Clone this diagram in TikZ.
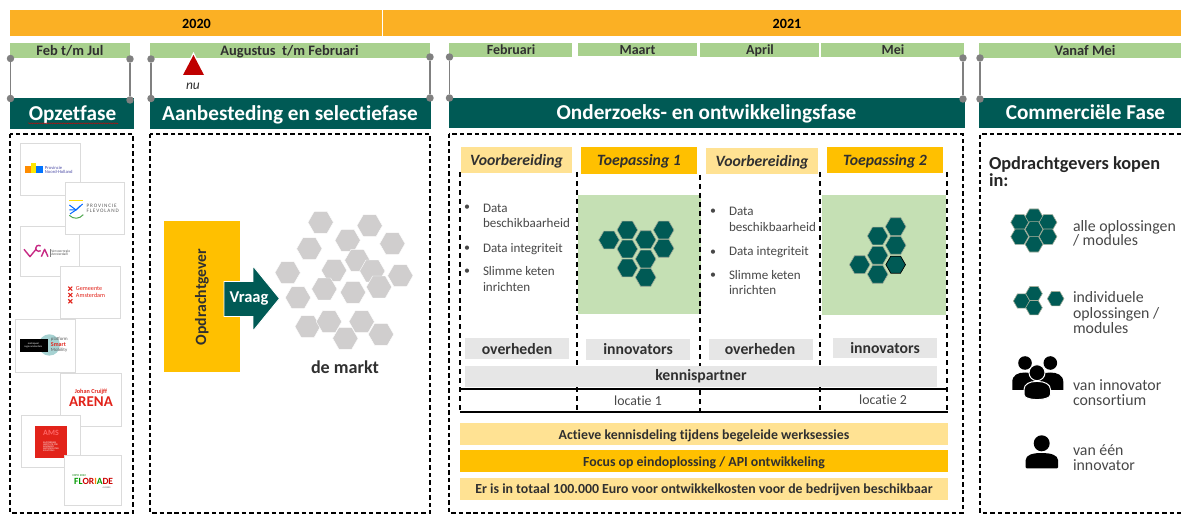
\documentclass[tikz,border=0pt]{standalone}
\usepackage{fontspec}
\setmainfont{Carlito}[Ligatures=NoCommon]
\usetikzlibrary{decorations.pathmorphing}
\definecolor{yearbar}{HTML}{FBB024}
\definecolor{monthgreen}{HTML}{A9D18E}
\definecolor{phase}{HTML}{005A55}
\definecolor{paleyellow}{HTML}{FFE293}
\definecolor{gold}{HTML}{FFC000}
\definecolor{softgreen}{HTML}{C5E0B4}
\definecolor{hexgrey}{HTML}{D0CECE}
\definecolor{bargrey}{HTML}{E6E6E6}
\definecolor{ink}{HTML}{303030}
\definecolor{bodytext}{HTML}{484848}
\definecolor{dotgrey}{HTML}{808080}
\definecolor{logored}{HTML}{E2231A}
\newcommand{\fs}[1]{\fontsize{#1}{#1}\selectfont}
\newcommand{\hexa}[4]{\path[#1,shift={(#2,#3)},scale=#4] (-1,0)--(-.5,-.866)--(.5,-.866)--(1,0)--(.5,.866)--(-.5,.866)--cycle;}
\tikzset{
  x=1bp,y=-1bp,
  box/.style={inner sep=0pt,outer sep=0pt,align=center},
  yearlabel/.style={box,anchor=base,font=\fs{14.2}\bfseries,text=black},
  monthlabel/.style={box,anchor=base,font=\fs{14.5}\bfseries,text=ink},
  monthnarrow/.style={box,anchor=base,font=\fs{14}\bfseries,text=ink},
  phaselabel/.style={box,anchor=base,font=\fs{21.3}\bfseries,text=white},
  steplabel/.style={box,anchor=base,font=\fs{15.8}\bfseries\itshape,text=ink},
  actorlabel/.style={box,anchor=base,font=\fs{15.8}\bfseries,text=ink},
  barlabel/.style={box,anchor=base,font=\fs{13.9}\bfseries,text=ink},
  listlabel/.style={box,font=\fs{13.1},text=bodytext,anchor=base west},
  buylabel/.style={box,font=\fs{15.9},text=bodytext,anchor=base west},
  headlabel/.style={box,font=\fs{18.4}\bfseries,text=black!85,anchor=base west},
  placelabel/.style={box,anchor=base,font=\fs{13.9},text=bodytext},
  bulletlabel/.style={box,font=\fs{12},text=bodytext},
  dashbox/.style={draw=black,line width=1.2pt,dash pattern=on 4.5pt off 3pt},
  dashrule/.style={draw=black,line width=1.1pt,dash pattern=on 5pt off 4pt},
  solidrule/.style={draw=black,line width=1.2pt},
  marketfill/.style={fill=hexgrey,draw=white,line width=.4pt},
  modulefill/.style={fill=phase,draw=softgreen!60!black!70!white,line width=.6pt},
  modulefilldark/.style={fill=phase,draw=black,line width=.7pt},
  dotnode/.style={circle,fill=dotgrey,minimum size=7.5pt,inner sep=0pt},
  handle/.style={draw=dotgrey,line width=1.6pt},
  logocard/.style={fill=white,draw=black!14,line width=1pt},
  logotext/.style={box,anchor=west,align=left},
  amsx/.style={draw=logored,line width=1.1pt},
}
\newcommand{\card}[4]{\fill[black!8] (#1+1,#2+1) rectangle (#3+1.5,#4+1.5); \path[logocard] (#1,#2) rectangle (#3,#4);}
\begin{document}
\begin{tikzpicture}
\useasboundingbox (0,0) rectangle (1181,517);
\fill[white] (0,0) rectangle (1181,517);

% years
\fill[yearbar] (10,10) rectangle (382,36);
\fill[yearbar] (383,10) rectangle (1181,36);
\node[yearlabel] (y20) at (196.5,29) {2020};
\node[yearlabel] (y21) at (787,29) {2021};

% months
\fill[monthgreen] (10,43) rectangle (130,58);
\fill[monthgreen] (150,43) rectangle (430,58);
\fill[monthgreen] (449,43) rectangle (572,57);
\fill[monthgreen] (578,43) rectangle (697,56.5);
\fill[monthgreen] (700,43) rectangle (819,57);
\fill[monthgreen] (821,43) rectangle (964,57);
\fill[monthgreen] (979,43) rectangle (1181,58);
\node[monthlabel] (m1) at (70,55.5) {Feb t/m Jul};
\node[monthlabel] (m2) at (289.5,55.5) {Augustus\ \ t/m Februari};
\node[monthnarrow] (m3) at (511,54.5) {Februari};
\node[monthnarrow] (m4) at (637.5,54.5) {Maart};
\node[monthnarrow] (m5) at (760,54.5) {April};
\node[monthnarrow] (m6) at (893,54.5) {Mei};
\node[monthlabel] (m7) at (1085,55.5) {Vanaf Mei};

% phase bars
\fill[phase] (9.5,98) rectangle (134,129);
\fill[phase] (149.5,98) rectangle (430.5,129);
\fill[phase] (448.5,98) rectangle (965,128.5);
\fill[phase] (979,98) rectangle (1181,128);
\node[phaselabel] (p1) at (72.5,120.5) {Opzetfase};
\node[phaselabel] (p2) at (290,120.5) {Aanbesteding en selectiefase};
\node[phaselabel] (p3) at (706.5,120) {Onderzoeks- en ontwikkelingsfase};
\node[phaselabel] (p4) at (1085.5,120) {Commerciële Fase};
\draw[red!85!black,line width=.4pt,decorate,decoration={snake,amplitude=.5pt,segment length=2.5pt}] (28,123.3) -- (118,123.3);

% handles
\foreach \n/\a/\ya/\yb in {a/10.5/58.5/98.5,b/130/59/100,c/151/59/98.5,d/430/57/98,e/449.5/57/98,f/963/58/99,g/980/58/99}{
  \node[dotnode] (top\n) at (\a,\ya) {};
  \node[dotnode] (bot\n) at (\a,\yb) {};
  \draw[handle] (top\n) -- (bot\n);
}

% now marker
\fill[fill=white] (193.5,52) -- (206,76) -- (181,76) -- cycle;
\fill[fill=red!75!black] (193.5,55) -- (204,75) -- (183,75) -- cycle;
\node[box,font=\fs{13.5}\itshape,text=ink] (nu) at (193,86) {nu};

% dashed frames
\path[dashbox] (10,134) rectangle (133,513);
\path[dashbox] (150,134) rectangle (430,513);
\path[dashbox] (449,134) rectangle (963,513);
\path[dashbox] (1181,134) -- (980,134) -- (980,513) -- (1181,513);

% logos
\begin{scope}[shift={(0,130)},x=.3333bp,y=-.3333bp]
\card{62}{41}{243}{196}
\fill[orange!90!yellow] (75,108) rectangle (92,130);
\fill[yellow!90!orange] (92,100) rectangle (108,130);
\fill[blue!55!cyan] (108,108) rectangle (130,130);
\node[logotext,font=\fs{4.6},text=blue!50!black!70!white] (lg1) at (135,119) {Provincie\\[-.3pt]Noord-Holland};
\card{62}{290}{238}{440}
\draw[magenta!80!black,line width=1.4pt,line join=round] (72,358) -- (90,380) -- (108,358);
\draw[magenta!80!black,line width=1.4pt] (122,362) arc[start angle=50,end angle=310,radius=9];
\draw[magenta!80!black,line width=1.4pt,line join=round] (124,380) -- (134,358) -- (144,380);
\draw[black!50,line width=.3pt] (151,358) -- (151,382);
\node[logotext,font=\fs{3.6},text=black!65] (lg3) at (154,369) {Vervoerregio\\[-.3pt]Amsterdam};
\card{197}{158}{373}{315}
\draw[yellow!80!orange,line width=1pt] (208,213) -- (248,213);
\draw[blue!60!cyan,line width=1pt] (208,225) -- (228,240) -- (248,222);
\draw[blue!60!cyan,line width=1pt] (208,240) -- (228,240) -- (240,228);
\draw[blue!60!cyan,line width=1pt] (210,252) -- (228,240);
\draw[green!50!black!70!white,line width=1pt] (208,256) .. controls (220,268) and (238,268) .. (250,254);
\node[logotext,font=\fs{5.2},text=black!65] (lg2) at (260,235) {P\,R\,O\,V\,I\,N\,C\,I\,E\\[-.3pt]F\,L\,E\,V\,O\,L\,A\,N\,D};
\card{182}{410}{363}{566}
\foreach \yy in {476,495,514}{
  \path[amsx] (205,\yy-6) -- (217,\yy+6);
  \path[amsx] (217,\yy-6) -- (205,\yy+6);
}
\node[logotext,font=\fs{6.2},text=logored] (lg4) at (228,486) {Gemeente\\[.6pt]Amsterdam};
\card{47}{568}{226}{727}
\fill[teal!35!white] (148,645) circle[radius=32];
\fill[black] (60,628) rectangle (145,665);
\node[box,font=\fs{2.6},text=white] (lg5a) at (100,646) {metropool\\[-.4pt]regio amsterdam};
\node[logotext,font=\fs{4.8},text=black!65] (lg5b) at (153,628) {platform};
\node[logotext,font=\fs{6}\bfseries,text=logored] (lg5c) at (153,645) {Smart};
\node[logotext,font=\fs{4.8},text=black!65] (lg5d) at (153,662) {Mobility};
\card{182}{730}{366}{890}
\node[box,font=\fs{6.2}\bfseries,text=logored] (lg6a) at (273,787) {\textsc{Johan Cruijff}};
\node[box,font=\fs{15}\bfseries,text=logored] (lg6b) at (273,816) {ARENA};
\card{65}{858}{243}{1014}
\fill[logored] (105,888) rectangle (201,984);
\node[box,font=\fs{8}\bfseries,text=red!60!white] (lg7a) at (153,908) {AMS};
\node[box,font=\fs{2.4},text=white,align=left] (lg7b) at (153,950) {AMSTERDAM\\[-.3pt]INSTITUTE FOR\\[-.3pt]ADVANCED\\[-.3pt]METROPOLITAN\\[-.3pt]SOLUTIONS};
\card{194}{978}{364}{1126}
\node[box,font=\fs{3},text=green!50!black] (lg8a) at (238,1036) {EXPO 2022};
\node[box,font=\fs{9.5}\bfseries] (lg8b) at (281,1055) {\textcolor{green!60!black}{FL}\textcolor{red!80!black}{OR}\textcolor{orange}{I}\textcolor{green!60!black}{A}\textcolor{red!80!black}{DE}};
\node[box,font=\fs{2.4},text=black!60] (lg8c) at (320,1073) {ALMERE};
\end{scope}

% Opdrachtgever and market
\fill[gold] (163.5,221.5) rectangle (239.5,372.5);
\node[box,font=\fs{15.8}\bfseries,text=ink,rotate=90] (client) at (202,297) {Opdrachtgever};
\foreach \a/\b in {512/97,659/107,593/151,727/161,478/176,622/211,667/243,552/241,413/248,751/257,687/291,523/297,609/307,444/323,473/410,537/395,635/395,586/445,693/433}{
  \hexa{marketfill}{150+\a/3}{190+\b/3}{12.7}
}
\path[fill=phase,draw=white,line width=.9pt] (224,281.5) -- (253,281.5) -- (253,266) -- (279.5,298.5) -- (253,331) -- (253,316.5) -- (224,316.5) -- cycle;
\node[box,font=\fs{16.6}\bfseries,text=white] (ask) at (249,299) {Vraag};
\node[box,font=\fs{18.2}\bfseries,text=ink,anchor=base] (markt) at (345,374) {de markt};

% step headers
\fill[paleyellow] (461,147) rectangle (572,173);
\fill[gold] (581,147) rectangle (697,174);
\fill[paleyellow] (706,148) rectangle (818,174);
\fill[gold] (827,147) rectangle (943,173);
\node[steplabel] (s1) at (516.5,166) {Voorbereiding};
\node[steplabel] (s2) at (639,166) {Toepassing 1};
\node[steplabel] (s3) at (762,166.7) {Voorbereiding};
\node[steplabel] (s4) at (885,166) {Toepassing 2};

% green panels
\fill[softgreen] (578,195) rectangle (701,314);
\fill[softgreen] (822,195) rectangle (946,315);
\foreach \a/\b in {477/300,532/270,587/299,641/270,532/327,641/325,587/357,532/384,587/412}{
  \hexa{modulefill}{450+\a/3}{140+\b/3}{10.3}
}
\foreach \a/\b in {587/260,533/288,587/316,533/346,479/374,533/403}{
  \hexa{modulefill}{700+\a/3}{140+\b/3}{10.3}
}
\hexa{modulefilldark}{700+587/3}{140+374/3}{9.8}

% vertical dashed rules
\path[dashrule] (460,172) -- (460,411);
\path[dashrule] (577,172) -- (577,411);
\path[dashrule] (700,175) -- (700,411);
\path[dashrule] (820,172) -- (820,411);
\path[dashrule] (947,172) -- (947,411);

% bullet lists
\node[bulletlabel] (b1a) at (467,208) {•};
\node[bulletlabel] (b1b) at (467,248.5) {•};
\node[bulletlabel] (b1c) at (467,272) {•};
\node[listlabel] (t1a) at (483,212.3) {Data};
\node[listlabel] (t1b) at (483,228) {beschikbaarheid};
\node[listlabel] (t1c) at (483,252.3) {Data integriteit};
\node[listlabel] (t1d) at (483,276) {Slimme keten};
\node[listlabel] (t1e) at (483,291.7) {inrichten};
\node[bulletlabel] (b2a) at (713,212) {•};
\node[bulletlabel] (b2b) at (713,252.5) {•};
\node[bulletlabel] (b2c) at (713,275.5) {•};
\node[listlabel] (t2a) at (729,216) {Data};
\node[listlabel] (t2b) at (729,231.3) {beschikbaarheid};
\node[listlabel] (t2c) at (729,256) {Data integriteit};
\node[listlabel] (t2d) at (729,279.3) {Slimme keten};
\node[listlabel] (t2e) at (729,295) {inrichten};

% actors
\fill[bargrey] (465,338) rectangle (569,359);
\fill[bargrey] (586,339) rectangle (690,360);
\fill[bargrey] (709,339) rectangle (813,360);
\fill[bargrey] (833,338) rectangle (937,358);
\fill[bargrey] (465,366) rectangle (937,387);
\node[actorlabel] (a1) at (517,354.3) {overheden};
\node[actorlabel] (a2) at (638,354.3) {innovators};
\node[actorlabel] (a3) at (760,354.3) {overheden};
\node[actorlabel] (a4) at (885,353.7) {innovators};
\node[actorlabel] (a5) at (701,381) {kennispartner};

% location rows
\path[solidrule] (460,389) -- (948,389);
\path[solidrule] (460,412) -- (948,412);
\node[placelabel] (l1) at (638,405) {locatie 1};
\node[placelabel] (l2) at (883,404) {locatie 2};

% bottom bars
\fill[paleyellow] (460,423) rectangle (948,445);
\fill[gold] (460,450) rectangle (948,472);
\fill[paleyellow] (460,478) rectangle (948,500);
\node[barlabel] (c1) at (704,439) {Actieve kennisdeling tijdens begeleide werksessies};
\node[barlabel] (c2) at (704,466) {Focus op eindoplossing / API ontwikkeling};
\node[barlabel] (c3) at (704,493.7) {Er is in totaal 100.000 Euro voor ontwikkelkosten voor de bedrijven beschikbaar};

% commercial phase
\node[headlabel] (h1) at (989,170) {Opdrachtgevers kopen};
\node[headlabel] (h2) at (989,186.7) {in:};
\foreach \a/\b in {177/260,134/277,219/277,177/298,134/320,219/320,177/343}{
  \hexa{modulefill}{975+\a/3}{130+\b/3}{8.9}
}
\foreach \a/\b in {140/513,177/491,177/533,242/506}{
  \hexa{modulefill}{975+\a/3}{130+\b/3}{8.3}
}
\node[buylabel] (o1a) at (1073,231.7) {alle oplossingen};
\node[buylabel] (o1b) at (1073,245.7) {/ modules};
\node[buylabel] (o2a) at (1073,302.7) {individuele};
\node[buylabel] (o2b) at (1073,318.3) {oplossingen /};
\node[buylabel] (o2c) at (1073,333.3) {modules};
\node[buylabel] (o3a) at (1073,390) {van innovator};
\node[buylabel] (o3b) at (1073,405.3) {consortium};
\node[buylabel] (o4a) at (1073,455) {van één};
\node[buylabel] (o4b) at (1073,470) {innovator};

% people: group
\fill[black] (1025,363) circle[radius=6.8];
\fill[black] (1050.3,363) circle[radius=6.8];
\fill[black] (1012.3,390) -- (1012.3,382) .. controls (1012.3,375) and (1018,372.5) .. (1025,372.5) .. controls (1032,372.5) and (1038,375) .. (1038,382) -- (1038,390) -- cycle;
\fill[black] (1037,390) -- (1037,382) .. controls (1037,375) and (1043,372.5) .. (1050.3,372.5) .. controls (1057,372.5) and (1063.3,375) .. (1063.3,382) -- (1063.3,390) -- cycle;
\path[fill=black,draw=white,line width=1pt] (1037,372.7) circle[radius=8];
\path[fill=black,draw=white,line width=1pt,rounded corners=1.5pt] (1024,396) -- (1024,391) .. controls (1024,384) and (1030,381.5) .. (1037,381.5) .. controls (1044,381.5) and (1050.5,384) .. (1050.5,391) -- (1050.5,396) .. controls (1044,400.5) and (1030,400.5) .. (1024,396) -- cycle;
% people: one
\fill[black] (1041.7,443.3) circle[radius=8];
\fill[black,rounded corners=1pt] (1025.7,468.3) -- (1025.7,461) .. controls (1025.7,455) and (1033,453) .. (1041.7,453) .. controls (1050,453) and (1058,455) .. (1058,461) -- (1058,468.3) -- cycle;
\end{tikzpicture}
\end{document}
